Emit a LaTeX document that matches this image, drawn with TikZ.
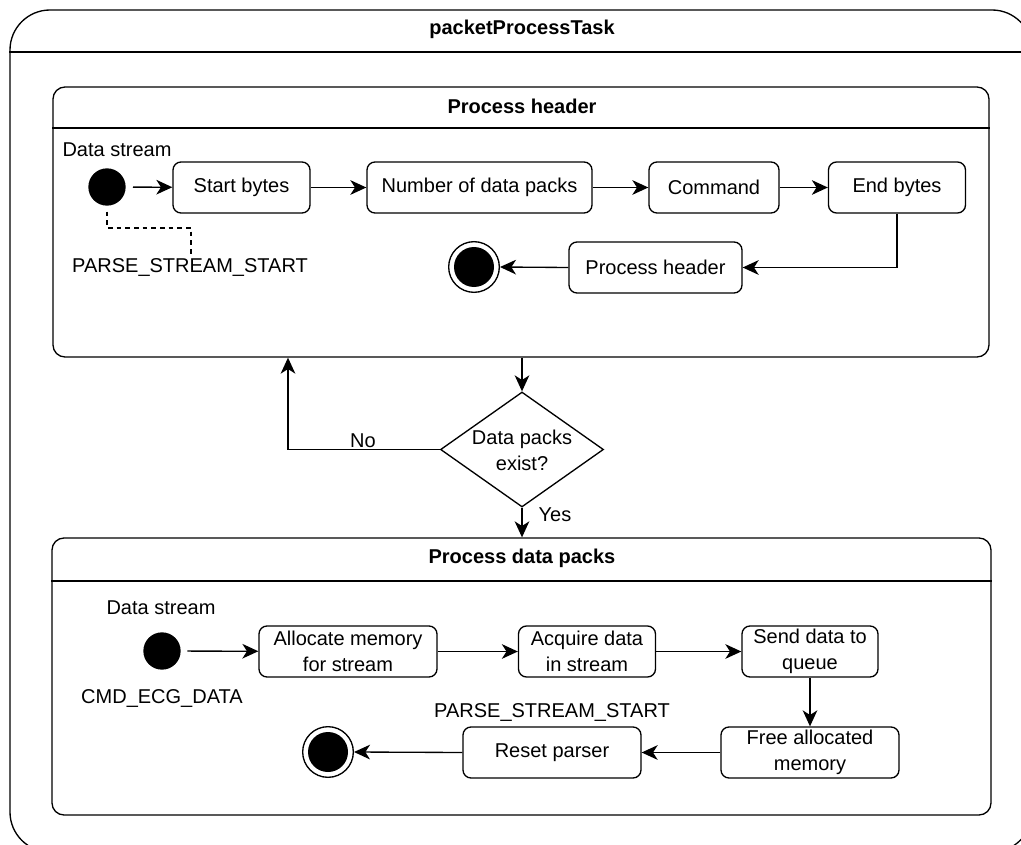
\documentclass[tikz,border=0pt]{standalone}
\usepackage{fontspec}
\setmainfont{Liberation Sans}
\usetikzlibrary{arrows.meta,shapes.geometric,fit}

\begin{document}
\begin{tikzpicture}[x=0.75pt,y=-0.75pt,
  line width=1pt,
  every node/.style={font=\fontsize{15}{19.5}\selectfont},
  frame/.style={draw, rounded corners=9pt, inner sep=0pt},
  act/.style={draw, rounded corners=6pt, minimum height=38.25pt, inner sep=2pt, align=center},
  arr/.style={-{Stealth[length=12pt,width=11pt,inset=3.5pt]}},
  lbl/.style={inner sep=0pt, align=center},
  title/.style={font=\bfseries\fontsize{15}{19.5}\selectfont, inner sep=0pt},
  start/.style={circle, fill, minimum size=28pt, inner sep=0pt},
  stopring/.style={circle, draw, minimum size=38pt, inner sep=0pt},
  stopdot/.style={circle, fill, minimum size=30pt, inner sep=0pt},
]
\clip (0,0) rectangle (1021,845);

% task frame
\coordinate (o1) at (10,10);
\coordinate (o2) at (1032,852);
\node[fit=(o1)(o2), draw, rounded corners=30pt, inner sep=0pt] (task) {};
\draw (task.west |- 0,52) -- (task.east |- 0,52);
\node[title] (tasktitle) at (522,29) {packetProcessTask};

% header sub-state
\coordinate (h1) at (53,87);
\coordinate (h2) at (989,357);
\node[fit=(h1)(h2), frame] (hdr) {};
\draw (hdr.west |- 0,128) -- (hdr.east |- 0,128);
\node[title] (hdrtitle) at (522,106) {Process header};

\node[start] (s1) at (107,187) {};
\node[lbl] (s1lbl) at (117,150) {Data stream};
\node[act, minimum width=102.75pt] (sb) at (241.5,187.5) {Start bytes};
\node[act, minimum width=168.75pt] (ndp) at (479.5,187.5) {Number of data packs};
\node[act, minimum width=97.5pt] (cmd) at (714,187.5) {Command};
\node[act, minimum width=102.75pt] (eb) at (897,187.5) {End bytes};
\node[act, minimum width=129.75pt] (ph) at (655.5,267.5) {Process header};
\node[stopring] (f1) at (474,267) {};
\node[stopdot] (f1dot) at (474,267) {};

\draw[arr, shorten <=5pt] (s1) -- (sb);
\draw[arr] (sb) -- (ndp);
\draw[arr] (ndp) -- (cmd);
\draw[arr] (cmd) -- (eb);
\draw[arr] (eb.south) |- (ph.east);
\draw[arr] (ph.west) -- (f1.east);

\node[lbl] (pss1) at (190,268) {PARSE\_STREAM\_START};
\coordinate (d1) at (107,228);
\coordinate (d2) at (191,228);
\draw[dashed, dash pattern=on 3.5pt off 3pt, shorten <=4pt, shorten >=3pt]
  (s1.south) -- (d1) -- (d2) -- (d2 |- pss1.north);

% decision
\node[diamond, draw, minimum width=122.25pt, minimum height=86.25pt, inner sep=0pt] (dec) at (522,449.5) {};
\node[lbl] (dectxt) at (522,450) {Data packs\\exist?};
\draw[arr] (dec.north |- hdr.south) -- (dec.north);
\coordinate (nobend) at (288,449.5);
\draw[arr] (dec.west) -- (nobend) -- (nobend |- hdr.south);
\node[lbl] (nolbl) at (363,441) {No};

% data packs sub-state
\coordinate (p1) at (52,538);
\coordinate (p2) at (991,815);
\node[fit=(p1)(p2), frame] (dp) {};
\draw (dp.west |- 0,581) -- (dp.east |- 0,581);
\node[title] (dptitle) at (522,558) {Process data packs};
\draw[arr] (dec.south) -- (dec.south |- dp.north);
\node[lbl] (yeslbl) at (555,515) {Yes};

\node[start] (s2) at (162,651) {};
\node[lbl] (s2lbl) at (161,608) {Data stream};
\node[lbl] (cmdlbl) at (162,698) {CMD\_ECG\_DATA};
\node[act, minimum width=133.5pt] (alloc) at (348,651.5) {Allocate memory\\for stream};
\node[act, minimum width=102.75pt] (acq) at (587,651.5) {Acquire data\\in stream};
\node[act, minimum width=102pt] (send) at (810,651.5) {Send data to\\queue};
\node[act, minimum width=133.5pt] (free) at (810,752.5) {Free allocated\\memory};
\node[act, minimum width=133.5pt] (reset) at (552,752.5) {Reset parser};
\node[lbl] (pss2) at (552,712) {PARSE\_STREAM\_START};
\node[stopring] (f2) at (328,752) {};
\node[stopdot] (f2dot) at (328,752) {};

\draw[arr, shorten <=4.5pt] (s2) -- (alloc);
\draw[arr] (alloc) -- (acq);
\draw[arr] (acq) -- (send);
\draw[arr] (send) -- (free);
\draw[arr] (free) -- (reset);
\draw[arr] (reset.west) -- (f2.east);
\end{tikzpicture}
\end{document}
